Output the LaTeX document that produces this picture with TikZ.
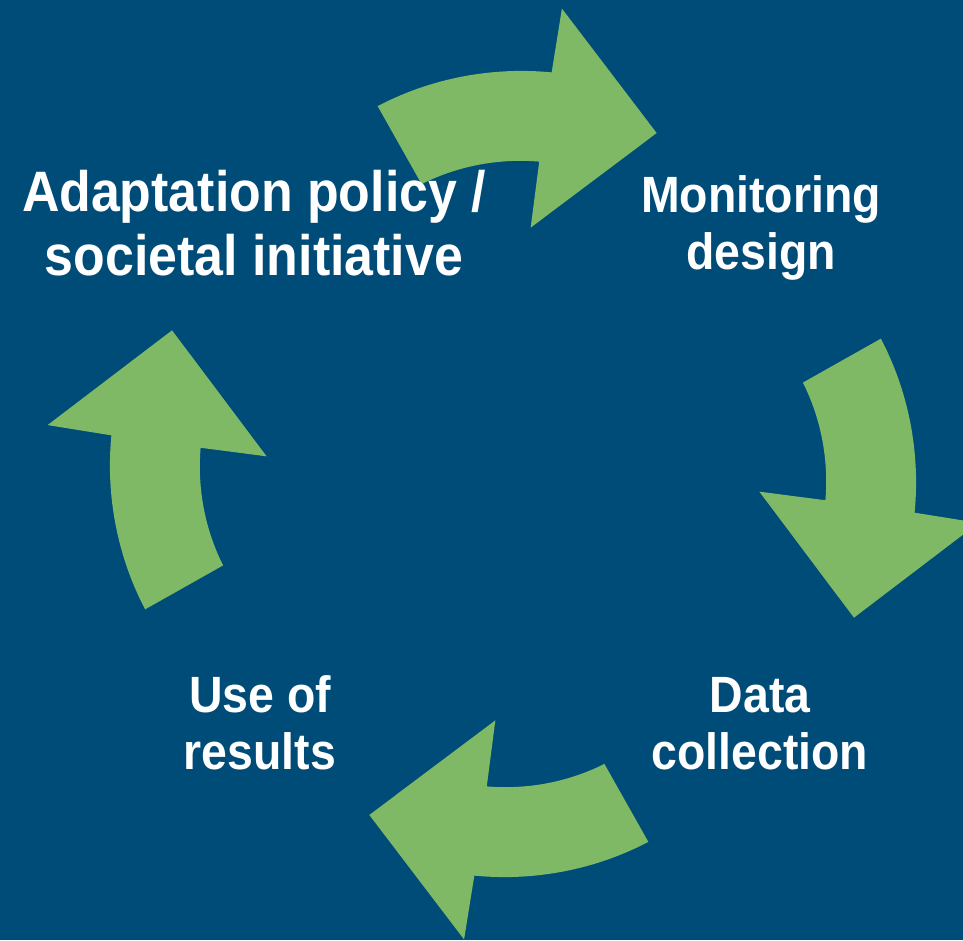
\documentclass[tikz,border=0pt]{standalone}
\usepackage{fontspec}
\newfontfamily\cyclefont{Liberation Sans}[FakeStretch=0.91]
\definecolor{bgblue}{RGB}{0,76,120}
\definecolor{arrowgreen}{RGB}{127,185,101}
\tikzset{
  steplabel/.style={text=white, align=center, inner sep=0pt,
    font=\cyclefont\bfseries\fontsize{51}{57}\selectfont},
  bigsteplabel/.style={steplabel,
    font=\cyclefont\bfseries\fontsize{57}{64}\selectfont},
  cyclearrow/.style={fill=arrowgreen}
}
\begin{document}
\begin{tikzpicture}[x=1pt,y=1pt]
    \clip (-513,-466) rectangle (450,474);
    \fill[bgblue] (-513,-466) rectangle (450,474);

    % the four arrows of the cycle
    \foreach \a in {0,-90,-180,-270}
       \fill[cyclearrow]
          plot[variable=\t, domain=110.2:84.5, samples=30] ({\t+\a}:{403.5-11.5*((\t-84.5)/25.7)^2})
          -- ({84+\a}:468) -- ({67.15+\a}:370) -- ({85.9+\a}:247)
          -- plot[variable=\t, domain=85.2:107.5, samples=30] ({\t+\a}:{313.5-9.5*((\t-85.2)/22.3)^2})
          -- cycle;

    \node[bigsteplabel] (policy)     at (-259, 251) {Adaptation policy /\\societal initiative};
    \node[steplabel]    (monitoring) at ( 248, 246) {Monitoring\\design};
    \node[steplabel]    (collection) at ( 247,-250) {Data\\collection};
    \node[steplabel]    (results)    at (-253,-249) {Use of\\results};
\end{tikzpicture}
\end{document}
